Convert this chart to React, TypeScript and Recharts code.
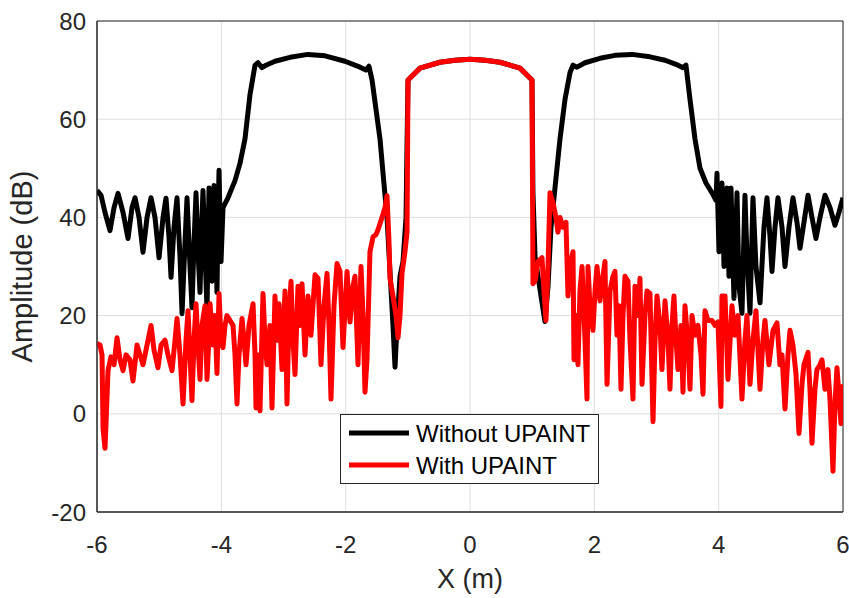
import React from 'react';
import {
  LineChart, Line, XAxis, YAxis, CartesianGrid, ReferenceArea, Legend
} from 'recharts';

// x positions (m) and amplitudes (dB)
const xWithout = [
  -6.0, -5.935, -5.871, -5.791, -5.726, -5.662, -5.581, -5.501, -5.437, -5.388,
  -5.324, -5.26, -5.195, -5.131, -5.067, -5.002, -4.938, -4.89, -4.842, -4.809,
  -4.761, -4.713, -4.665, -4.632, -4.584, -4.552, -4.504, -4.472, -4.439, -4.407,
  -4.375, -4.343, -4.311, -4.295, -4.263, -4.23, -4.214, -4.198, -4.166, -4.15,
  -4.134, -4.118, -4.086, -4.07, -4.053, -4.037, -4.021, -4.005, -3.973, -3.893,
  -3.78, -3.7, -3.619, -3.539, -3.458, -3.41, -3.346, -3.281, -3.137, -2.895,
  -2.606, -2.332, -2.011, -1.769, -1.673, -1.625, -1.576, -1.512, -1.448, -1.399,
  -1.335, -1.287, -1.239, -1.206, -1.174, -1.126, -1.078, -1.029, -1.013, -0.997,
  -0.804, -0.483, -0.241, 0, 0.241, 0.483, 0.804, 0.997, 1.013, 1.046,
  1.094, 1.142, 1.206, 1.255, 1.303, 1.367, 1.448, 1.528, 1.609, 1.657,
  1.721, 1.85, 2.091, 2.332, 2.606, 2.895, 3.137, 3.346, 3.426, 3.474,
  3.539, 3.619, 3.7, 3.796, 3.893, 3.957, 3.973, 4.005, 4.053, 4.086,
  4.134, 4.166, 4.198, 4.246, 4.295, 4.327, 4.375, 4.423, 4.455, 4.504,
  4.552, 4.6, 4.665, 4.729, 4.777, 4.826, 4.858, 4.906, 4.954, 5.019,
  5.067, 5.131, 5.195, 5.26, 5.308, 5.372, 5.437, 5.501, 5.565, 5.63,
  5.71, 5.791, 5.871, 5.935, 6.0,
];
const yWithout = [
  45.5, 44.5, 41, 37.3, 42, 44.9, 41, 35.7, 42, 44,
  40, 32.9, 40, 44, 40, 31.8, 40, 43.9, 36, 27.8,
  38, 44, 32, 20.4, 35, 44, 30, 21.6, 35, 45,
  33, 24.7, 40, 45.5, 33, 21, 35, 46, 35, 27,
  38, 46.5, 35, 24.7, 40, 49.6, 40, 31, 42, 44,
  47.5, 51, 56, 65, 71, 71.5, 70.5, 71, 71.8, 72.6,
  73.2, 72.9, 71.8, 70.6, 70, 70.8, 68, 62, 56, 49,
  40, 29, 18, 9.5, 18, 28, 31, 40, 55, 68,
  70.4, 71.6, 72, 72.2, 72, 71.6, 70.4, 68, 45, 32,
  28, 24, 18.8, 26, 38, 46, 56, 64, 69.5, 71,
  70.6, 71.5, 72.4, 73, 73.2, 72.7, 72, 71, 70.5, 71,
  64, 56, 50, 47, 45, 43.5, 49, 33, 47, 30,
  46, 28, 46, 23.5, 45, 26, 20.5, 44.5, 32, 20.5,
  44, 30, 22.6, 38, 44, 36, 29, 38, 44, 38,
  30, 38, 44, 39, 33.7, 39, 44.5, 40, 35.7, 40,
  44.5, 42, 38.4, 41, 44,
];

const xWith = [
  -6.0, -5.951, -5.919, -5.903, -5.871, -5.855, -5.823, -5.775, -5.726, -5.678,
  -5.63, -5.581, -5.533, -5.469, -5.421, -5.356, -5.308, -5.26, -5.195, -5.131,
  -5.083, -5.019, -4.97, -4.906, -4.858, -4.793, -4.745, -4.713, -4.665, -4.616,
  -4.568, -4.536, -4.504, -4.472, -4.439, -4.407, -4.375, -4.343, -4.311, -4.263,
  -4.23, -4.198, -4.182, -4.134, -4.102, -4.07, -4.037, -4.005, -3.973, -3.941,
  -3.909, -3.86, -3.812, -3.78, -3.748, -3.716, -3.667, -3.635, -3.603, -3.555,
  -3.49, -3.458, -3.442, -3.41, -3.378, -3.33, -3.297, -3.265, -3.217, -3.185,
  -3.137, -3.104, -3.072, -3.024, -2.976, -2.944, -2.911, -2.879, -2.847, -2.815,
  -2.767, -2.734, -2.702, -2.654, -2.606, -2.558, -2.493, -2.445, -2.397, -2.348,
  -2.3, -2.268, -2.236, -2.188, -2.139, -2.091, -2.043, -1.978, -1.93, -1.882,
  -1.85, -1.802, -1.753, -1.721, -1.689, -1.657, -1.609, -1.56, -1.512, -1.48,
  -1.415, -1.367, -1.335, -1.303, -1.287, -1.239, -1.19, -1.158, -1.126, -1.094,
  -1.046, -1.013, -0.997, -0.804, -0.483, -0.241, 0, 0.241, 0.483, 0.804,
  0.997, 1.013, 1.046, 1.094, 1.158, 1.19, 1.222, 1.255, 1.287, 1.335,
  1.383, 1.415, 1.448, 1.496, 1.544, 1.576, 1.609, 1.657, 1.673, 1.705,
  1.737, 1.769, 1.802, 1.85, 1.882, 1.898, 1.93, 1.978, 2.011, 2.043,
  2.091, 2.139, 2.171, 2.204, 2.252, 2.3, 2.332, 2.364, 2.397, 2.429,
  2.461, 2.493, 2.541, 2.574, 2.622, 2.654, 2.702, 2.734, 2.767, 2.815,
  2.847, 2.895, 2.944, 2.976, 3.008, 3.056, 3.088, 3.137, 3.185, 3.217,
  3.249, 3.281, 3.314, 3.346, 3.394, 3.426, 3.458, 3.507, 3.539, 3.571,
  3.619, 3.667, 3.716, 3.748, 3.78, 3.828, 3.893, 3.941, 3.989, 4.037,
  4.053, 4.102, 4.15, 4.214, 4.263, 4.311, 4.375, 4.423, 4.455, 4.504,
  4.552, 4.6, 4.665, 4.713, 4.745, 4.809, 4.874, 4.938, 4.986, 5.019,
  5.067, 5.115, 5.147, 5.195, 5.244, 5.292, 5.34, 5.372, 5.437, 5.469,
  5.501, 5.549, 5.581, 5.63, 5.662, 5.71, 5.758, 5.791, 5.839, 5.871,
  5.903, 5.968, 6.0,
];
const yWith = [
  14.3, 14, 12, -3, -7, -2, 8.8, 11.6, 10, 15.5,
  11, 8.8, 12, 11, 6.7, 14, 12, 10, 14, 18,
  13, 9.4, 14, 15, 12, 8.8, 15, 19.4, 12, 2,
  15, 21, 12, 2.7, 15, 22.4, 14, 7, 18, 22,
  7, 16, 22.4, 14, 20, 8.2, 24.5, 15, 13.5, 18,
  20, 19, 18, 12, 2, 12, 19.4, 15, 10, 18,
  22.4, 12, 1.2, 12, 0.6, 24.5, 15, 10, 18, 1.2,
  24, 15, 22.4, 9, 25, 2, 20, 27, 15, 8,
  26, 18, 26.5, 12, 24, 16, 28.3, 27.6, 10, 22,
  28.6, 18, 3, 22, 30.6, 29, 13.5, 29, 18.7, 26,
  28, 10, 30, 20, 4.4, 11, 33, 36, 36.5, 37.5,
  40, 42, 44.4, 35, 27.6, 24, 20, 15.5, 20, 28.6,
  33, 37, 68, 70.4, 71.6, 72, 72.2, 72, 71.6, 70.4,
  68, 26.5, 27, 31, 31.8, 25, 19, 30, 45, 43,
  40, 37, 40, 38, 39, 24, 30, 33, 11, 20,
  10, 25, 30, 15, 3, 30, 22, 17, 25, 30,
  23, 28, 31, 6, 25, 28, 29, 16, 22, 5,
  20, 28, 27, 15, 3, 26, 20, 27.6, 6, 20,
  25, 24.5, -1.6, 15, 24, 18, 9, 23, 15, 5,
  18, 24, 15, 9, 18, 4.4, 22, 14, 5, 20,
  16, 18, 12, 4, 21, 19, 19, 18, 18.7, 1.5,
  24, 24, 7, 22, 16, 20, 3, 15, 20, 6,
  15, 21, 5, 15, 19, 10, 17, 18.5, 10, 12,
  1, 12, 17, 14, 8, -4, 6, 10, 12.5, 5,
  -6, 5, 9, 10, 11, 5, 9, 3, -11.7, 2,
  9.4, -2, 6,
];

const xTicks = [-6, -4, -2, 0, 2, 4, 6];
const yTicks = [-20, 0, 20, 40, 60, 80];

const withoutData = xWithout.map((x, i) => ({ x, y: yWithout[i] }));
const withData = xWith.map((x, i) => ({ x, y: yWith[i] }));

const FONT = '"Liberation Sans", Arial, Helvetica, sans-serif';
const INK = '#262626';

const LegendBox = () => (
  <svg width={260} height={71} style={{ display: 'block' }}>
    <rect x={0.5} y={0.5} width={258} height={69} fill="#fff" stroke={INK} strokeWidth={1} />
    <line x1={9} x2={69} y1={19} y2={19} stroke="#000" strokeWidth={5} />
    <text x={76} y={28} fontSize={24} fontFamily={FONT} fill="#000">Without UPAINT</text>
    <line x1={9} x2={69} y1={51} y2={51} stroke="#ff0000" strokeWidth={5} />
    <text x={76} y={60} fontSize={24} fontFamily={FONT} fill="#000">With UPAINT</text>
  </svg>
);

export default function App() {
  return (
    <div style={{ position: 'absolute', left: 0, top: 0, background: '#fff' }}>
      <LineChart
        width={849}
        height={598}
        margin={{ top: 21, right: 6, bottom: 0, left: 0 }}
        style={{ fontFamily: FONT }}
      >
        <CartesianGrid stroke="#dedede" strokeWidth={1} />
        <XAxis
          dataKey="x"
          type="number"
          domain={[-6, 6]}
          ticks={xTicks}
          allowDataOverflow
          height={86}
          tickLine={false}
          tickMargin={18}
          stroke={INK}
          tick={{ fill: INK, fontSize: 24 }}
          label={{ value: 'X (m)', position: 'insideBottom', offset: 10, fill: INK, fontSize: 27 }}
        />
        <YAxis
          dataKey="y"
          type="number"
          domain={[-20, 80]}
          ticks={yTicks}
          allowDataOverflow
          width={97}
          tickLine={false}
          tickMargin={5}
          stroke={INK}
          tick={{ fill: INK, fontSize: 24 }}
          label={{
            value: 'Amplitude (dB)', angle: -90, position: 'insideLeft', offset: 22,
            fill: INK, fontSize: 29, style: { textAnchor: 'middle' },
          }}
        />
        <ReferenceArea x1={-6} x2={6} y1={-20} y2={80} fill="none" stroke={INK} strokeWidth={1} />
        <Line
          data={withoutData}
          dataKey="y"
          name="Without UPAINT"
          type="linear"
          stroke="#000000"
          strokeWidth={5}
          strokeLinejoin="round"
          dot={false}
          activeDot={false}
          isAnimationActive={false}
        />
        <Line
          data={withData}
          dataKey="y"
          name="With UPAINT"
          type="linear"
          stroke="#ff0000"
          strokeWidth={5}
          strokeLinejoin="round"
          dot={false}
          activeDot={false}
          isAnimationActive={false}
        />
        <Legend
          verticalAlign="middle"
          align="center"
          content={() => <LegendBox />}
          wrapperStyle={{ left: 340, top: 414, width: 260, height: 71 }}
        />
      </LineChart>
    </div>
  );
}
